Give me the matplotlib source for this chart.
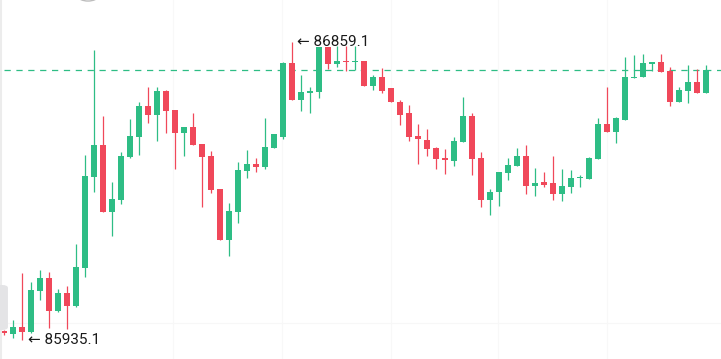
import matplotlib
matplotlib.use("Agg")
import matplotlib.pyplot as plt
from matplotlib.patches import FancyBboxPatch, Circle
import numpy as np

# ---- data ----
opens = [85963.0, 85953.7, 85975.4, 85959.9, 86087.0, 86127.3, 86025.0, 86080.8, 86040.5, 86158.3,
         86440.4, 86539.6, 86331.9, 86369.1, 86502.4, 86564.4, 86660.5, 86632.6, 86707.0, 86648.1,
         86576.8, 86595.4, 86542.7, 86505.5, 86403.2, 86245.1, 86331.9, 86459.0, 86480.7, 86471.4,
         86530.3, 86564.4, 86793.8, 86679.1, 86700.8, 86703.9, 86843.4, 86790.7, 86800.0, 86796.9,
         86800.0, 86722.5, 86750.4, 86716.3, 86672.9, 86638.8, 86567.5, 86555.1, 86530.3, 86499.3,
         86490.0, 86548.9, 86629.5, 86499.3, 86369.1, 86393.9, 86452.8, 86474.5, 86505.5, 86412.5,
         86424.9, 86421.8, 86387.7, 86409.4, 86437.3, 86434.2, 86496.2, 86604.7, 86579.9, 86617.1,
         86747.3, 86750.4, 86790.7, 86796.9, 86769.0, 86672.9, 86707.0, 86734.9, 86700.8]
highs = [85966.1, 85997.1, 86142.8, 86114.9, 86152.1, 86145.9, 86093.2, 86102.5, 86232.7, 86508.6,
         86834.1, 86629.5, 86424.9, 86517.9, 86620.2, 86672.9, 86719.4, 86719.4, 86710.0, 86648.1,
         86595.4, 86638.8, 86542.7, 86521.0, 86403.2, 86359.8, 86486.9, 86524.1, 86499.3, 86623.3,
         86573.7, 86796.9, 86859.1, 86756.6, 86719.4, 86843.4, 86843.4, 86846.5, 86846.5, 86846.5,
         86800.0, 86756.6, 86778.3, 86716.3, 86679.1, 86663.6, 86604.7, 86589.2, 86533.4, 86527.2,
         86564.4, 86688.4, 86638.8, 86517.9, 86403.2, 86455.9, 86499.3, 86530.3, 86539.6, 86468.3,
         86455.9, 86505.5, 86465.2, 86462.1, 86446.6, 86502.4, 86623.3, 86719.4, 86626.4, 86812.4,
         86818.6, 86821.7, 86796.9, 86821.7, 86781.4, 86719.4, 86787.6, 86775.2, 86787.6]
lows = [85950.6, 85941.3, 85935.1, 85956.8, 86059.1, 85972.3, 86021.9, 85969.2, 86037.4, 86130.4,
        86393.9, 86331.9, 86257.5, 86356.7, 86499.3, 86508.6, 86607.8, 86552.0, 86576.8, 86465.2,
        86505.5, 86539.6, 86347.4, 86390.8, 86245.1, 86195.5, 86297.8, 86437.3, 86455.9, 86465.2,
        86530.3, 86558.2, 86679.1, 86645.0, 86638.8, 86685.3, 86775.2, 86781.4, 86769.0, 86772.1,
        86722.5, 86710.1, 86700.8, 86672.9, 86601.6, 86552.0, 86480.7, 86505.5, 86465.2, 86449.7,
        86474.5, 86548.9, 86446.6, 86347.4, 86322.6, 86350.5, 86431.1, 86474.5, 86387.7, 86381.5,
        86409.4, 86369.1, 86366.0, 86390.8, 86409.4, 86434.2, 86496.2, 86579.9, 86545.8, 86617.1,
        86747.3, 86750.4, 86769.0, 86765.9, 86660.5, 86672.9, 86669.8, 86700.8, 86700.8]
closes = [85956.8, 85975.4, 85959.9, 86090.1, 86127.3, 86025.0, 86080.8, 86040.5, 86161.4, 86443.5,
          86539.6, 86331.9, 86372.2, 86505.5, 86567.5, 86660.5, 86632.6, 86707.0, 86645.0, 86576.8,
          86595.4, 86539.6, 86502.4, 86400.1, 86245.1, 86335.0, 86462.1, 86480.7, 86471.4, 86533.4,
          86573.7, 86793.8, 86679.1, 86703.9, 86707.0, 86843.4, 86790.7, 86800.0, 86796.9, 86800.0,
          86722.5, 86750.4, 86707.0, 86672.9, 86632.6, 86564.4, 86558.2, 86527.2, 86496.2, 86493.1,
          86552.0, 86629.5, 86496.2, 86369.1, 86393.9, 86455.9, 86477.6, 86505.5, 86412.5, 86421.8,
          86415.6, 86387.7, 86412.5, 86437.3, 86440.4, 86499.3, 86604.7, 86579.9, 86623.3, 86750.4,
          86750.4, 86793.8, 86796.9, 86765.9, 86672.9, 86710.1, 86734.9, 86700.8, 86772.1]
max_label = "86859.1"
min_label = "85935.1"

GREEN = "#2ebd85"
RED = "#f0485a"

o = np.array(opens); h = np.array(highs); l = np.array(lows); c = np.array(closes)
n = len(o)
x = np.arange(n)
up = c >= o
cols = np.where(up, GREEN, RED)

fig = plt.figure(figsize=(7.21, 3.59), dpi=100)
ax = fig.add_axes([0, 0, 1, 1])
ax.set_facecolor("white")

ppx = 3.1007
ymin = 85935.1 - 19 * ppx
ymax = 85935.1 + 340 * ppx
xmin = -4 / 9
xmax = xmin + 721 / 9
ax.set_xlim(xmin, xmax)
ax.set_ylim(ymin, ymax)

# very faint grid
for gx in [173, 282, 391, 498, 607]:
    ax.axvline(xmin + gx / 9, color="#f8f8f8", lw=0.8, zorder=0)
ax.axhline(ymax - 323 * ppx, color="#f7f7f7", lw=0.8, zorder=0)

# wicks
ax.vlines(x, l, h, colors=cols, linewidth=0.9, zorder=2)
# bodies
bottom = np.minimum(o, c)
height = np.maximum(np.abs(c - o), 1.2 * ppx)
ax.bar(x, height, bottom=bottom, width=0.7, color=cols, linewidth=0, zorder=3)

# last price dashed line
ax.axhline(closes[-1], xmin=0.005, color=GREEN, lw=0.9, ls=(0, (5, 4.5)), zorder=1)

# max/min labels
imax = int(np.argmax(h))
imin = int(np.argmin(l))
fam = ["Roboto", "DejaVu Sans"]
ax.text(imax + 0.55, h[imax] + 0.5 * ppx, "\u2190 " + max_label, ha="left", va="center",
        fontsize=11, color="#1a1a1a", family=fam, zorder=5)
ax.text(imin + 0.65, l[imin], "\u2190 " + min_label, ha="left", va="center",
        fontsize=11, color="#1a1a1a", family=fam, zorder=5)

# left edge and side tab decoration
fig.add_artist(plt.Line2D([0.002, 0.002], [0, 1], color="#ececec", lw=1.5, transform=fig.transFigure))
tab = FancyBboxPatch((-0.02, 1 - 330 / 359), 0.031, 45 / 359,
                     boxstyle="round,pad=0,rounding_size=0.008",
                     transform=fig.transFigure, facecolor="#e4e4e6", edgecolor="none", zorder=4)
fig.add_artist(tab)
fig.text(0.005, 1 - 307 / 359, "\u203a", ha="center", va="center", fontsize=13,
         color="#7a7a7a", family=["DejaVu Sans"], weight="bold")
circ = Circle((88 / 721, 1 + 4 / 359), 0.014, transform=fig.transFigure,
              facecolor="none", edgecolor="#bdbdbd", lw=1.0)
fig.add_artist(circ)

ax.axis("off")
fig.savefig("out.png", dpi=100, facecolor="white")
